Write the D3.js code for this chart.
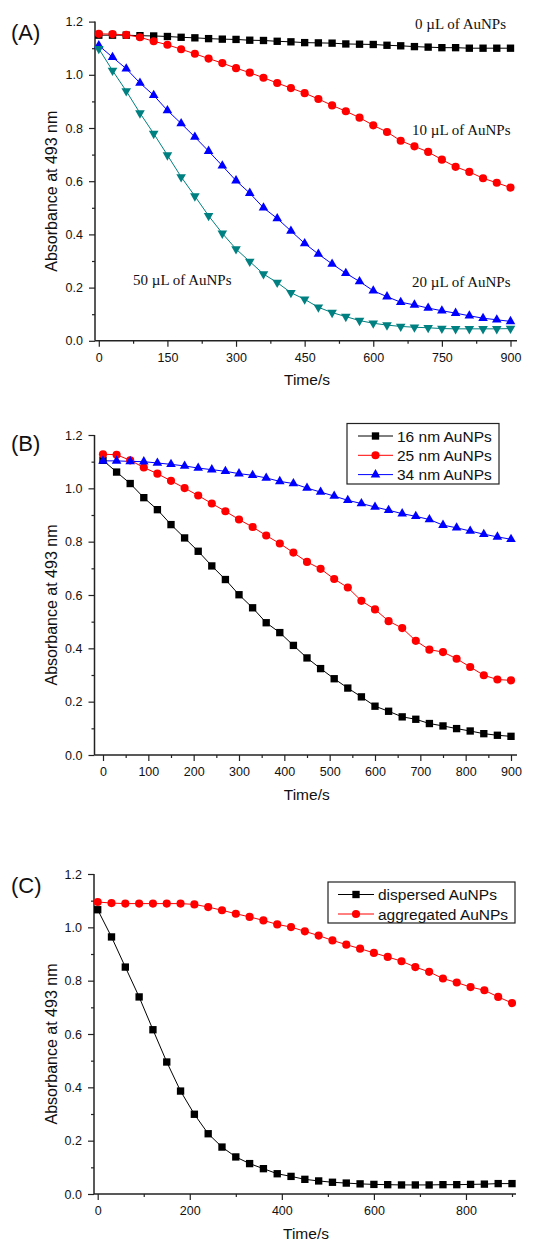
<!DOCTYPE html>
<html>
<head>
<meta charset="utf-8">
<script src="https://cdn.jsdelivr.net/npm/d3@7"></script>
<style>
body { margin: 0; background: #fff; }
svg { display: block; font-family: "Liberation Sans", Arial, sans-serif; }
</style>
</head>
<body>
<svg id="chart" width="534" height="1244"></svg>
<script>
// time points (s)
var times = [0, 30, 60, 90, 120, 150, 180, 210, 240, 270, 300, 330, 360, 390, 420, 450,
    480, 510, 540, 570, 600, 630, 660, 690, 720, 750, 780, 810, 840, 870, 900];

// (A) amount of AuNPs
var a0 = [1.149, 1.149, 1.149, 1.147, 1.146, 1.144, 1.141, 1.139, 1.136, 1.134, 1.133, 1.130, 1.129, 1.126, 1.124, 1.121,
    1.120, 1.119, 1.116, 1.115, 1.114, 1.111, 1.109, 1.106, 1.104, 1.102, 1.102, 1.100, 1.100, 1.100, 1.100];
var a10 = [1.154, 1.153, 1.150, 1.141, 1.126, 1.113, 1.096, 1.079, 1.061, 1.044, 1.025, 1.008, 0.989, 0.969, 0.950, 0.931,
    0.909, 0.885, 0.863, 0.839, 0.810, 0.785, 0.752, 0.731, 0.710, 0.681, 0.654, 0.635, 0.611, 0.594, 0.576];
var a20 = [1.110, 1.066, 1.023, 0.969, 0.923, 0.866, 0.817, 0.766, 0.713, 0.658, 0.602, 0.555, 0.500, 0.460, 0.413, 0.366,
    0.326, 0.289, 0.254, 0.223, 0.188, 0.166, 0.145, 0.135, 0.123, 0.113, 0.104, 0.094, 0.085, 0.079, 0.073];
var a50 = [1.098, 1.016, 0.939, 0.856, 0.779, 0.698, 0.616, 0.544, 0.470, 0.404, 0.345, 0.298, 0.251, 0.219, 0.181, 0.156,
    0.126, 0.106, 0.091, 0.076, 0.066, 0.059, 0.054, 0.051, 0.049, 0.046, 0.045, 0.045, 0.045, 0.045, 0.046];
var aNotes = ["0 µL of AuNPs", "10 µL of AuNPs", "20 µL of AuNPs", "50 µL of AuNPs"];

// (B) particle size
var b16 = [1.105, 1.061, 1.018, 0.965, 0.920, 0.864, 0.814, 0.764, 0.709, 0.658, 0.601, 0.552, 0.496, 0.459, 0.411, 0.364,
    0.324, 0.286, 0.251, 0.218, 0.183, 0.164, 0.143, 0.134, 0.118, 0.109, 0.099, 0.090, 0.080, 0.074, 0.070];
var b25 = [1.128, 1.126, 1.105, 1.078, 1.055, 1.028, 1.001, 0.973, 0.943, 0.914, 0.883, 0.855, 0.823, 0.793, 0.759, 0.724,
    0.698, 0.660, 0.628, 0.578, 0.546, 0.502, 0.476, 0.428, 0.395, 0.386, 0.361, 0.330, 0.299, 0.283, 0.280];
var b34 = [1.103, 1.103, 1.101, 1.100, 1.095, 1.090, 1.084, 1.076, 1.070, 1.064, 1.055, 1.049, 1.039, 1.026, 1.018, 1.001,
    0.986, 0.971, 0.955, 0.943, 0.930, 0.918, 0.905, 0.895, 0.883, 0.862, 0.852, 0.840, 0.828, 0.818, 0.809];
var bNames = ["16 nm AuNPs", "25 nm AuNPs", "34 nm AuNPs"];

// (C) dispersed vs aggregated
var cDisp = [1.066, 0.964, 0.851, 0.739, 0.616, 0.495, 0.386, 0.299, 0.226, 0.176, 0.139, 0.114, 0.095, 0.076, 0.066, 0.055,
    0.049, 0.044, 0.041, 0.038, 0.036, 0.035, 0.034, 0.034, 0.034, 0.035, 0.035, 0.036, 0.037, 0.039, 0.039];
var cAgg = [1.095, 1.091, 1.089, 1.089, 1.089, 1.089, 1.089, 1.086, 1.076, 1.064, 1.051, 1.039, 1.026, 1.011, 1.001, 0.985,
    0.969, 0.951, 0.935, 0.920, 0.904, 0.889, 0.873, 0.851, 0.833, 0.808, 0.793, 0.776, 0.764, 0.739, 0.716];
var cNames = ["dispersed AuNPs", "aggregated AuNPs"];

// ticks
var yMajor = [0, 0.2, 0.4, 0.6, 0.8, 1.0, 1.2];
var yMinor = [0.1, 0.3, 0.5, 0.7, 0.9, 1.1];
var aXMajor = [0, 150, 300, 450, 600, 750, 900];
var aXMinor = [75, 225, 375, 525, 675, 825];
var bXMajor = [0, 100, 200, 300, 400, 500, 600, 700, 800, 900];
var bXMinor = [50, 150, 250, 350, 450, 550, 650, 750, 850];
var cXMajor = [0, 200, 400, 600, 800];
var cXMinor = [100, 300, 500, 700, 900];

var svg = d3.select("#chart");
var fmtY = d3.format(".1f");

var symbols = {
    square: { type: d3.symbolSquare, size: 54, rot: 0 },
    circle: { type: d3.symbolCircle, size: 52, rot: 0 },
    up: { type: d3.symbolTriangle, size: 40, rot: 0 },
    down: { type: d3.symbolTriangle, size: 40, rot: 180 }
};

function drawMarker(g, cx, cy, shape, color) {
    var s = symbols[shape];
    g.append("path")
        .attr("d", d3.symbol().type(s.type).size(s.size)())
        .attr("transform", "translate(" + cx + "," + cy + ") rotate(" + s.rot + ")")
        .attr("fill", color)
        .attr("stroke", "none");
}

function panel(p) {
    var g = svg.append("g");
    var x = d3.scaleLinear().domain([0, 900]).range([p.x0, p.x900]);
    var xa = d3.scaleLinear().domain([x.invert(p.left), x.invert(p.right)]).range([p.left, p.right]);
    var y = d3.scaleLinear().domain([0, 1.2]).range([p.y0, p.yTop]);

    // minor ticks
    var mx = g.append("g").attr("transform", "translate(0," + p.y0 + ")")
        .call(d3.axisBottom(xa).tickValues(p.xMinor).tickSize(3).tickFormat(""));
    var my = g.append("g").attr("transform", "translate(" + p.left + ",0)")
        .call(d3.axisLeft(y).tickValues(yMinor).tickSize(3).tickFormat(""));
    // major ticks
    var gx = g.append("g").attr("transform", "translate(0," + p.y0 + ")")
        .call(d3.axisBottom(xa).tickValues(p.xMajor).tickSize(6).tickPadding(6).tickFormat(d3.format("d")));
    var gy = g.append("g").attr("transform", "translate(" + p.left + ",0)")
        .call(d3.axisLeft(y).tickValues(yMajor).tickSize(6).tickPadding(6).tickFormat(fmtY));

    [mx, my, gx, gy].forEach(function(a) {
        a.select(".domain").remove();
        a.selectAll(".tick line").attr("stroke", "#222").attr("stroke-width", 1.2);
        a.selectAll("text").attr("font-family", "Liberation Sans, Arial, sans-serif")
            .attr("font-size", 12.5).attr("fill", "#111");
    });

    // axis lines
    g.append("line").attr("x1", p.left).attr("x2", p.right).attr("y1", p.y0).attr("y2", p.y0)
        .attr("stroke", "#222").attr("stroke-width", 1.5);
    g.append("line").attr("x1", p.left).attr("x2", p.left).attr("y1", p.y0).attr("y2", p.yTop)
        .attr("stroke", "#222").attr("stroke-width", 1.5);

    // axis titles
    g.append("text")
        .attr("x", (p.left + p.right) / 2 + 1)
        .attr("y", p.y0 + 44.5)
        .attr("text-anchor", "middle")
        .attr("font-size", 15.5)
        .attr("fill", "#111")
        .text("Time/s");
    g.append("text")
        .attr("transform", "translate(57," + ((p.y0 + p.yTop) / 2 + 10) + ") rotate(-90)")
        .attr("text-anchor", "middle")
        .attr("font-size", 16)
        .attr("fill", "#111")
        .text("Absorbance at 493 nm");

    // panel letter
    g.append("text")
        .attr("x", 11)
        .attr("y", p.yTop + p.letterDy)
        .attr("font-size", 22)
        .attr("fill", "#111")
        .text(p.letter);

    var line = d3.line()
        .x(function(d) { return x(d[0]); })
        .y(function(d) { return y(d[1]); });

    p.series.forEach(function(s) {
        var pts = times.map(function(t, i) { return [t, s.values[i]]; });
        g.append("path")
            .attr("d", line(pts))
            .attr("fill", "none")
            .attr("stroke", s.color)
            .attr("stroke-width", 1);
    });
    p.series.forEach(function(s) {
        times.forEach(function(t, i) {
            drawMarker(g, x(t), y(s.values[i]), s.shape, s.color);
        });
    });

    return g;
}

function legend(g, box, names, series) {
    g.append("rect")
        .attr("x", box.x).attr("y", box.y)
        .attr("width", box.w).attr("height", box.h)
        .attr("fill", "#fff").attr("stroke", "#222").attr("stroke-width", 1.2);
    names.forEach(function(n, i) {
        var cy = box.y + box.first + i * box.step;
        var s = series[i];
        g.append("line")
            .attr("x1", box.x + box.l1).attr("x2", box.x + box.l2)
            .attr("y1", cy).attr("y2", cy)
            .attr("stroke", s.color).attr("stroke-width", 1);
        drawMarker(g, box.x + (box.l1 + box.l2) / 2, cy, s.shape, s.color);
        g.append("text")
            .attr("x", box.x + box.tx)
            .attr("y", cy + 5.5)
            .attr("font-size", 15.5)
            .attr("fill", "#111")
            .text(n);
    });
}

// ---------- (A)
var serA = [
    { values: a0, color: "#000000", shape: "square" },
    { values: a10, color: "#ff0000", shape: "circle" },
    { values: a20, color: "#0000ff", shape: "up" },
    { values: a50, color: "#008080", shape: "down" }
];
var gA = panel({
    letter: "(A)", letterDy: 18.5,
    x0: 98.8, x900: 510.5, left: 95, right: 517,
    yTop: 21.6, y0: 340.8,
    xMajor: aXMajor, xMinor: aXMinor,
    series: serA
});
var notePos = [[415, 29], [412, 134.5], [412, 287], [133, 284.5]];
aNotes.forEach(function(t, i) {
    gA.append("text")
        .attr("x", notePos[i][0]).attr("y", notePos[i][1])
        .attr("font-family", "Liberation Serif, Times New Roman, serif")
        .attr("font-size", 15)
        .attr("fill", "#111")
        .text(t);
});

// ---------- (B)
var serB = [
    { values: b16, color: "#000000", shape: "square" },
    { values: b25, color: "#ff0000", shape: "circle" },
    { values: b34, color: "#0000ff", shape: "up" }
];
var gB = panel({
    letter: "(B)", letterDy: 16,
    x0: 103, x900: 511, left: 94.5, right: 517,
    yTop: 435, y0: 755,
    xMajor: bXMajor, xMinor: bXMinor,
    series: serB
});
legend(gB, { x: 347, y: 423.5, w: 152, h: 60.5, first: 12.5, step: 19.3, l1: 11, l2: 46, tx: 50 }, bNames, serB);

// ---------- (C)
var serC = [
    { values: cDisp, color: "#000000", shape: "square" },
    { values: cAgg, color: "#ff0000", shape: "circle" }
];
var gC = panel({
    letter: "(C)", letterDy: 18.5,
    x0: 97.7, x900: 512, left: 94, right: 516,
    yTop: 874, y0: 1194,
    xMajor: cXMajor, xMinor: cXMinor,
    series: serC
});
legend(gC, { x: 328, y: 882, w: 187, h: 41, first: 12.5, step: 19.5, l1: 10, l2: 46, tx: 50 }, cNames, serC);
</script>
</body>
</html>
